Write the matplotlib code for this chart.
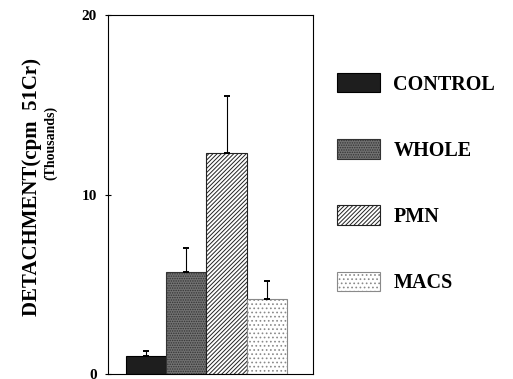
import matplotlib
matplotlib.use("Agg")
import matplotlib.pyplot as plt

plt.rcParams['font.family'] = ['Liberation Serif', 'DejaVu Serif']
plt.rcParams['font.weight'] = 'bold'
plt.rcParams['hatch.linewidth'] = 0.7

# data (thousands of cpm)
groups = ['CONTROL', 'WHOLE', 'PMN', 'MACS']
means = [1.0, 5.7, 12.3, 4.2]
errors = [0.3, 1.3, 3.2, 1.0]
yticks = [0, 10, 20]

faces = ['#1e1e1e', '#727272', 'white', 'white']
hatches = [None, '.......', '////////', '....']
edges = ['black', '#333333', '#222222', '#8a8a8a']

fig = plt.figure(figsize=(5.13, 3.79), dpi=100)
ax = fig.add_axes([108 / 513, 1 - 374 / 379, 205 / 513, 359 / 379])

x = list(range(len(groups)))
bars = ax.bar(x, means, width=1.0, color=faces, edgecolor=edges, linewidth=0.8)
for b, h in zip(bars, hatches):
    if h:
        b.set_hatch(h)

ax.errorbar(x, means, yerr=[[0] * len(errors), errors], fmt='none',
            ecolor='black', elinewidth=0.8, capsize=2.5, capthick=1.4)

ax.set_xlim(-0.95, 4.15)
ax.set_ylim(0, 20)
ax.set_xticks([])
ax.set_yticks(yticks)
ax.set_yticklabels([str(t) for t in yticks], fontsize=11, fontweight='bold')
ax.tick_params(axis='y', direction='inout', length=4, width=0.8, pad=6)
for s in ax.spines.values():
    s.set_linewidth(0.8)

# axis title, two lines
fig.text(32 / 513, 1 - 187 / 379, 'DETACHMENT(cpm  51Cr)', rotation=90,
         fontsize=15, fontweight='bold', ha='center', va='center')
fig.text(51 / 513, 1 - 143 / 379, '(Thousands)', rotation=90, fontsize=10,
         fontweight='bold', ha='center', va='center')

ax.legend(handles=list(bars), labels=groups, loc='upper left',
          bbox_to_anchor=(337 / 513, 1 - 73 / 379), bbox_transform=fig.transFigure,
          frameon=False, handlelength=2.15, handleheight=1.1,
          handletextpad=0.65, labelspacing=2.22, borderaxespad=0, borderpad=0,
          prop={'family': ['Liberation Serif'], 'weight': 'bold', 'size': 14.5})

fig.savefig('out.png', dpi=100)
